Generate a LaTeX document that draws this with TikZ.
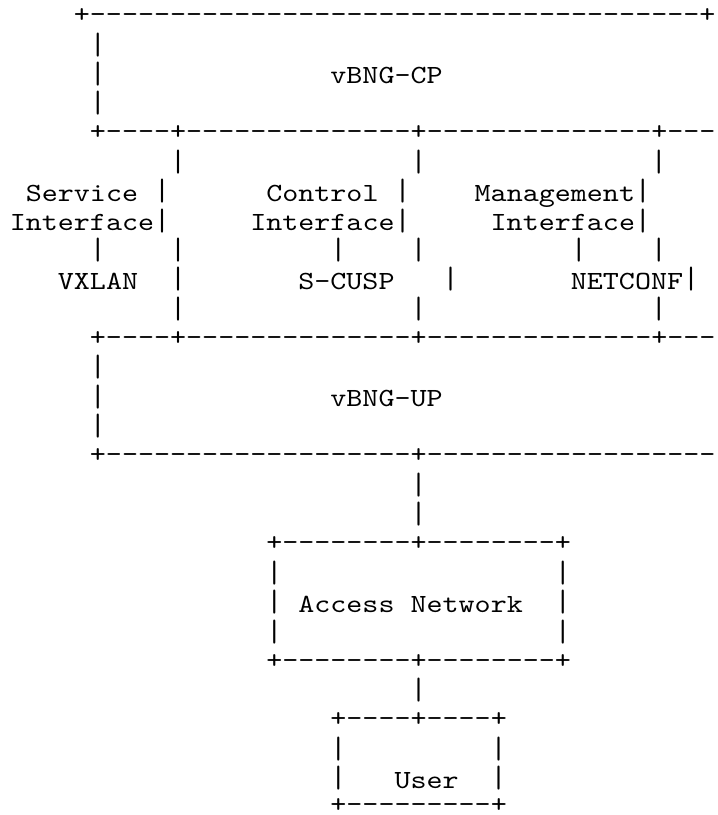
\documentclass[tikz,border=0pt]{standalone}
\usepackage{fontspec}
\usepackage{graphicx}
\setmonofont{lmmono10-regular.otf}[FakeStretch=1.166]
\tikzset{asc/.style={anchor=base west, inner sep=0pt, outer sep=0pt, text=black,
  font=\ttfamily\fontsize{26.2pt}{29.35pt}\selectfont},
  vbar/.style={asc, anchor=center}}
% text segment at row #1, column #2
\newcommand\asciiat[3]{\node[asc] (n#1c#2) at ({9.8+16.03*#2},{25+29.35*#1}) {#3};}
% box edge (+ and -) at row #1, column #2
\newcommand\edgeat[3]{\node[asc] (e#1c#2) at ({9.8+16.03*#2},{22.5+29.35*#1}) {#3};}
% vertical bar at row #1, column #2
\newcommand\barat[2]{\node[vbar] (b#1c#2) at ({17.8+16.03*#2},{15.3+29.35*#1}) {\scalebox{1}[1.18]{|}};}
\begin{document}
\begin{tikzpicture}[x=1pt,y=-1pt]
\useasboundingbox (0,0) rectangle (718,815);
% vBNG-CP
\edgeat{0}{4}{+--------------------------------------+}
\barat{1}{5}
\barat{2}{5}
\asciiat{2}{20}{vBNG-CP}
\barat{3}{5}
\edgeat{4}{5}{+----+--------------+--------------+---}
% interfaces
\barat{5}{10}
\barat{5}{25}
\barat{5}{40}
\asciiat{6}{1}{Service}
\barat{6}{9}
\asciiat{6}{16}{Control}
\barat{6}{24}
\asciiat{6}{29}{Management}
\barat{6}{39}
\asciiat{7}{0}{Interface}
\barat{7}{9}
\asciiat{7}{15}{Interface}
\barat{7}{24}
\asciiat{7}{30}{Interface}
\barat{7}{39}
\barat{8}{5}
\barat{8}{10}
\barat{8}{20}
\barat{8}{25}
\barat{8}{35}
\barat{8}{40}
\asciiat{9}{3}{VXLAN}
\barat{9}{10}
\asciiat{9}{18}{S-CUSP}
\barat{9}{27}
\asciiat{9}{35}{NETCONF}
\barat{9}{42}
\barat{10}{10}
\barat{10}{25}
\barat{10}{40}
% vBNG-UP
\edgeat{11}{5}{+----+--------------+--------------+---}
\barat{12}{5}
\barat{13}{5}
\asciiat{13}{20}{vBNG-UP}
\barat{14}{5}
\edgeat{15}{5}{+-------------------+------------------}
\barat{16}{25}
\barat{17}{25}
% Access Network
\edgeat{18}{16}{+--------+--------+}
\barat{19}{16}
\barat{19}{34}
\barat{20}{16}
\asciiat{20}{18}{Access Network}
\barat{20}{34}
\barat{21}{16}
\barat{21}{34}
\edgeat{22}{16}{+--------+--------+}
\barat{23}{25}
% User
\edgeat{24}{20}{+----+----+}
\barat{25}{20}
\barat{25}{30}
\barat{26}{20}
\asciiat{26}{24}{User}
\barat{26}{30}
\node[asc] (e27c20) at ({9.8+16.03*20},{20+29.35*27}) {+---------+};
\end{tikzpicture}
\end{document}
